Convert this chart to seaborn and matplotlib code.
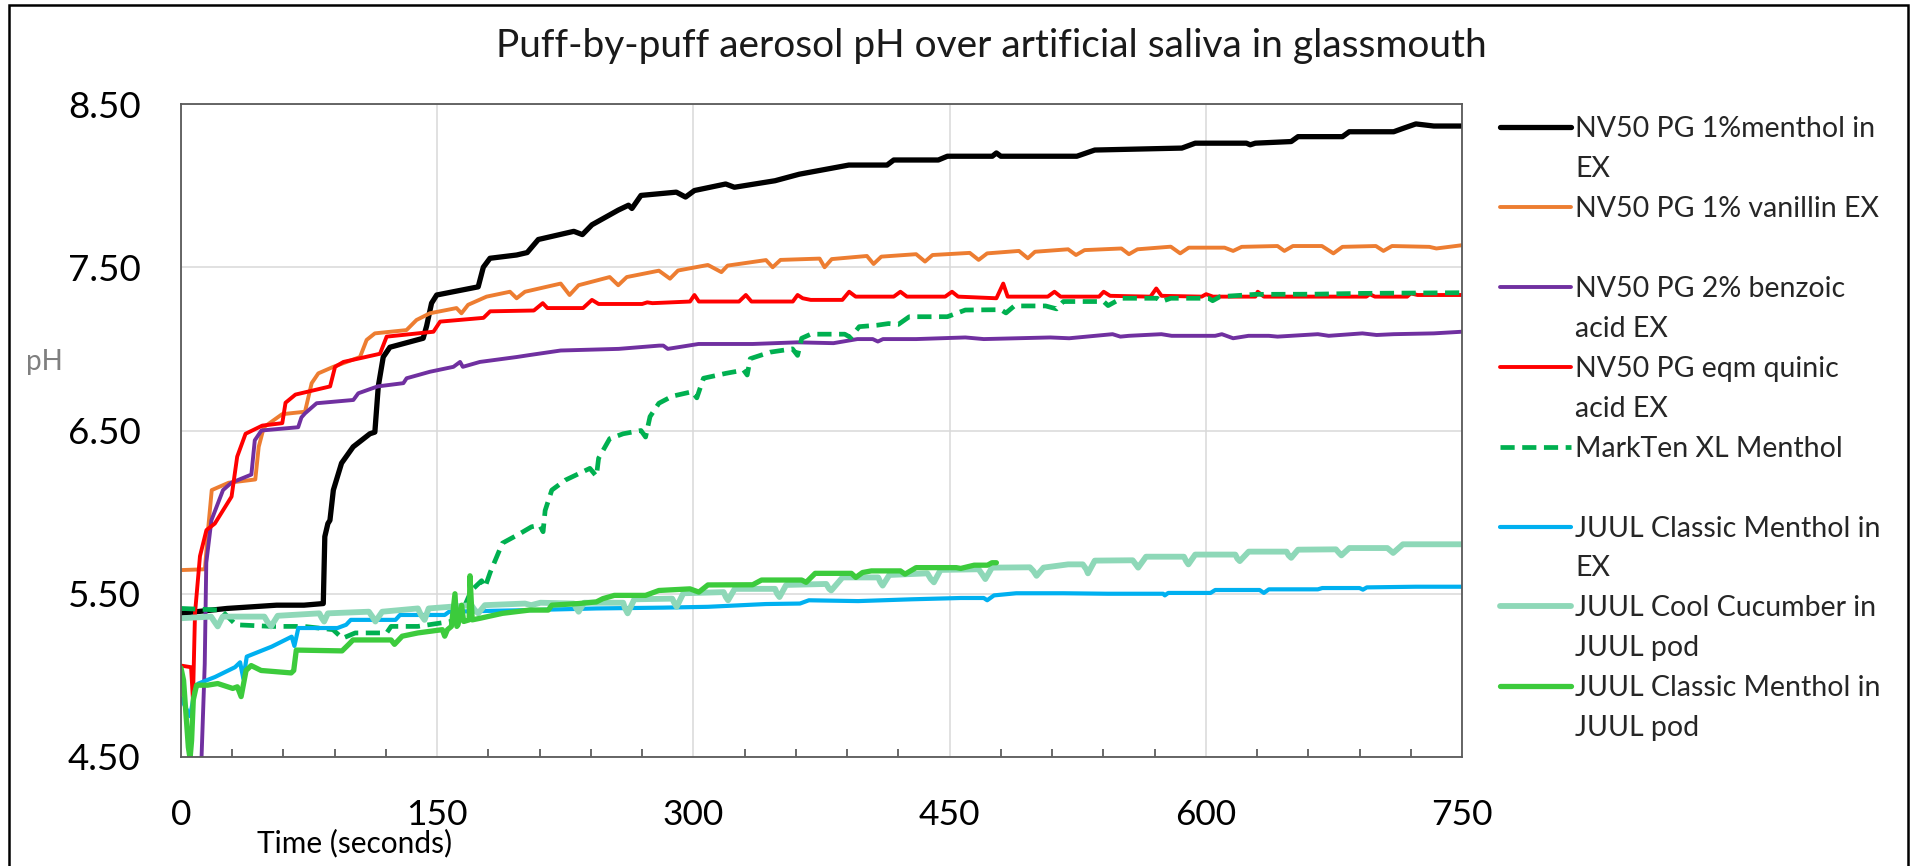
import numpy as np
import matplotlib
matplotlib.use("Agg")
import matplotlib.pyplot as plt
import seaborn as sns
from matplotlib.lines import Line2D
from matplotlib.patches import Rectangle

# puff-by-puff pH readings
t_black = [0, 27, 56, 72, 83.3, 84.2, 86, 87.2, 89.2, 94, 100.8, 110.6, 113.5, 115.5, 118.4, 122.3,
           141.8, 143.8, 146.7, 149.7, 174, 177, 180.9, 196.5, 202.7, 209.2, 230, 235, 240.6, 256,
           262, 264, 269.3, 290, 295.4, 300.6, 318.9, 324, 347.8, 362, 391, 413.4, 417.3, 443.4,
           448.7, 475, 477.4, 480, 524.5, 535, 586, 593.8, 623.8, 626, 629, 650, 654, 680, 684,
           710, 715.3, 723, 733.5, 750]
ph_black = [5.38, 5.41, 5.43, 5.43, 5.44, 5.85, 5.93, 5.95, 6.135, 6.30, 6.40, 6.48, 6.49, 6.77, 6.95,
            7.01, 7.065, 7.14, 7.28, 7.33, 7.38, 7.50, 7.555, 7.575, 7.59, 7.67, 7.72, 7.70, 7.76,
            7.85, 7.88, 7.86, 7.94, 7.96, 7.93, 7.97, 8.01, 7.99, 8.03, 8.07, 8.126, 8.126, 8.157,
            8.157, 8.18, 8.18, 8.20, 8.18, 8.18, 8.218, 8.23, 8.26, 8.26, 8.25, 8.26, 8.27, 8.30,
            8.30, 8.33, 8.33, 8.35, 8.378, 8.365, 8.365]

t_orange = [0, 14, 16, 18, 27.9, 43.5, 45.5, 48.5, 59.2, 72.6, 76.5, 80.4, 89.2, 104.8, 108.7, 113.5,
            132, 137.9, 145.7, 161.3, 164.2, 168.1, 178.9, 192.6, 196.5, 201.4, 222.3, 227.5, 232.8,
            251, 256, 261, 279.8, 286.3, 291, 308.5, 316.4, 320, 342.5, 346.4, 351, 373.9, 376.8,
            381, 401.6, 405.5, 410, 430.4, 435.6, 440, 461.8, 467, 472, 490.6, 495.8, 500, 519.4,
            524, 529, 550.6, 555, 560, 579.5, 585, 590, 611, 616, 621, 642, 646, 651, 668, 674.7,
            680, 699.6, 704, 709, 730.9, 735, 750]
ph_orange = [5.645, 5.65, 5.91, 6.135, 6.18, 6.20, 6.40, 6.52, 6.60, 6.615, 6.79, 6.85, 6.89, 6.95,
             7.055, 7.095, 7.115, 7.177, 7.218, 7.25, 7.218, 7.27, 7.32, 7.35, 7.31, 7.35, 7.40,
             7.33, 7.39, 7.44, 7.39, 7.44, 7.479, 7.43, 7.48, 7.514, 7.47, 7.51, 7.544, 7.50, 7.545,
             7.553, 7.50, 7.55, 7.569, 7.52, 7.565, 7.58, 7.535, 7.575, 7.588, 7.545, 7.585, 7.60,
             7.555, 7.595, 7.61, 7.575, 7.605, 7.615, 7.58, 7.61, 7.626, 7.585, 7.62, 7.62, 7.60,
             7.625, 7.63, 7.60, 7.63, 7.63, 7.585, 7.625, 7.63, 7.60, 7.63, 7.625, 7.615, 7.635]

t_purple = [0, 8.5, 9.2, 12, 13.9, 14.8, 17.8, 24.6, 29.5, 41.2, 43.2, 47.1, 68.6, 70.5, 72.6, 79.4,
            100.9, 103.8, 115.1, 130.2, 132.1, 145.8, 159.5, 163.4, 165, 175, 196.5, 204, 222.3,
            256.3, 280, 282.4, 285, 303, 334.7, 360.8, 382, 396, 405, 408, 411, 430.4, 459.2, 470,
            509, 520, 545.4, 550, 555, 574, 580, 605.5, 609.4, 616, 625, 636.9, 642, 665.6, 672,
            691.7, 700, 710, 733.5, 750]
ph_purple = [4.30, 4.30, 4.49, 4.49, 5.07, 5.69, 5.95, 6.135, 6.18, 6.23, 6.44, 6.50, 6.52, 6.58,
             6.605, 6.667, 6.687, 6.728, 6.77, 6.79, 6.82, 6.86, 6.89, 6.92, 6.89, 6.92, 6.95, 6.962,
             6.99, 7.00, 7.02, 7.02, 7.00, 7.03, 7.03, 7.04, 7.035, 7.06, 7.06, 7.045, 7.06, 7.06,
             7.07, 7.06, 7.07, 7.065, 7.09, 7.075, 7.08, 7.09, 7.08, 7.08, 7.09, 7.065, 7.08, 7.08,
             7.075, 7.09, 7.08, 7.095, 7.085, 7.09, 7.095, 7.105]

t_red = [0, 5.9, 7.0, 8.2, 11.1, 14.9, 19.8, 29.6, 32.9, 37.8, 47.6, 59.3, 61.2, 67, 87.3, 90.2, 95.1,
         116.5, 120.4, 147.8, 151.7, 177.1, 181, 206.6, 211.8, 214.5, 235.4, 240.6, 244.5, 270, 273,
         276, 298, 300.6, 303.2, 326.7, 330.7, 334, 358.2, 361, 364, 368.7, 387.2, 391.2, 395, 417.3,
         421.2, 425, 447.4, 451.4, 455, 477.4, 481.4, 484, 507.5, 511.4, 515, 537.5, 540.2, 544,
         567.6, 571, 574.1, 597.6, 600.2, 604.2, 629, 630.4, 634, 694, 696, 699, 717.9, 720, 724, 750]
ph_red = [5.06, 5.05, 4.85, 5.38, 5.73, 5.89, 5.93, 6.095, 6.34, 6.48, 6.53, 6.545, 6.67, 6.72, 6.77,
          6.89, 6.92, 6.97, 7.075, 7.105, 7.167, 7.19, 7.23, 7.235, 7.28, 7.25, 7.25, 7.30, 7.275,
          7.275, 7.285, 7.28, 7.29, 7.33, 7.29, 7.29, 7.33, 7.29, 7.29, 7.33, 7.31, 7.30, 7.30, 7.35,
          7.32, 7.32, 7.35, 7.32, 7.32, 7.35, 7.32, 7.31, 7.40, 7.32, 7.32, 7.35, 7.32, 7.32, 7.35,
          7.325, 7.32, 7.37, 7.325, 7.32, 7.335, 7.32, 7.32, 7.35, 7.32, 7.32, 7.335, 7.32, 7.32,
          7.34, 7.33, 7.33]

t_markten = [0, 23.4, 32.2, 53, 72, 89, 94.5, 102, 120.4, 123, 138.7, 145, 158, 165, 170, 176, 178,
             181, 188.2, 198.7, 205.2, 210, 212, 213.2, 217.1, 225, 239.4, 243.2, 244.5, 251, 258.9,
             269.3, 272, 274.6, 279.8, 287.6, 299.4, 302, 305.9, 319, 329.4, 331.5, 333.3, 345, 358,
             361, 363.4, 368.7, 388.6, 392, 397.1, 407.6, 414.2, 420, 426.4, 448.7, 459.2, 480, 483,
             487.9, 506.2, 512.7, 516.6, 540.2, 542.8, 550.6, 571.5, 574, 579.5, 601.7, 604, 608.3,
             629.2, 663, 691.7, 750]
ph_markten = [5.41, 5.40, 5.31, 5.30, 5.30, 5.28, 5.227, 5.26, 5.26, 5.30, 5.30, 5.31, 5.33, 5.40,
              5.52, 5.58, 5.54, 5.63, 5.81, 5.87, 5.91, 5.92, 5.88, 6.01, 6.135, 6.196, 6.268, 6.22,
              6.33, 6.45, 6.48, 6.50, 6.46, 6.585, 6.667, 6.71, 6.738, 6.70, 6.82, 6.85, 6.87, 6.84,
              6.94, 6.98, 7.00, 6.96, 7.065, 7.09, 7.09, 7.07, 7.136, 7.145, 7.155, 7.15, 7.197,
              7.197, 7.238, 7.24, 7.22, 7.263, 7.263, 7.245, 7.29, 7.29, 7.265, 7.31, 7.31, 7.29,
              7.31, 7.31, 7.295, 7.32, 7.334, 7.335, 7.34, 7.344]

t_juul_ex = [0, 5.3, 8.2, 10.2, 19.9, 31.6, 34.6, 36.5, 38.5, 53.1, 64.8, 66.4, 68.7, 91.6, 96.7, 99.4,
             125.6, 128.2, 154.4, 157, 204, 243.2, 282.4, 308.5, 342.5, 362.4, 367.6, 396.4, 427.8,
             456.5, 470, 472, 476, 489, 516.6, 542.7, 575, 576, 578, 602.8, 605.5, 631.5, 634, 636.9,
             665.6, 668.2, 690, 692, 694.3, 723, 750]
ph_juul_ex = [4.86, 4.75, 4.91, 4.95, 4.99, 5.05, 5.08, 4.98, 5.115, 5.176, 5.237, 5.18, 5.29, 5.29,
              5.31, 5.34, 5.34, 5.37, 5.37, 5.39, 5.40, 5.41, 5.415, 5.42, 5.437, 5.44, 5.46, 5.455,
              5.466, 5.474, 5.474, 5.46, 5.49, 5.503, 5.503, 5.50, 5.50, 5.49, 5.505, 5.505, 5.523,
              5.523, 5.505, 5.527, 5.527, 5.535, 5.535, 5.525, 5.539, 5.543, 5.543]

t_cucumber = [0, 17.6, 19.5, 21.5, 24.4, 48.8, 50.5, 52.7, 56.6, 81, 82.5, 83.8, 86, 110, 112, 113.8,
              117.8, 138.7, 140.5, 142.6, 145, 170, 172, 174, 177.9, 201.4, 205, 210.5, 230, 231.5,
              232.8, 236, 258.9, 260, 261.5, 265.4, 287.6, 289, 290.2, 294.1, 317.7, 319, 320.3,
              324.2, 347.8, 349, 350.4, 354.3, 377.8, 379.5, 380.7, 387.3, 408.2, 409.5, 410.8, 414.7,
              437, 439, 440.8, 444.7, 467, 469, 470.9, 474.8, 497, 499, 500.9, 505, 519.4, 528, 530,
              531, 535, 557.2, 559, 560.4, 565, 587.2, 588.5, 589.8, 593.8, 617.3, 618.5, 619.9,
              625.1, 647.3, 648.5, 650, 654, 676.2, 678, 679.4, 684, 706.3, 708, 709.7, 715.4, 750]
ph_cucumber = [5.35, 5.36, 5.33, 5.30, 5.36, 5.36, 5.33, 5.30, 5.365, 5.38, 5.35, 5.33, 5.38, 5.39,
               5.36, 5.33, 5.39, 5.41, 5.37, 5.34, 5.41, 5.43, 5.40, 5.38, 5.43, 5.44, 5.43, 5.445,
               5.44, 5.41, 5.39, 5.445, 5.445, 5.41, 5.38, 5.466, 5.47, 5.44, 5.42, 5.503, 5.51,
               5.48, 5.46, 5.53, 5.53, 5.50, 5.48, 5.554, 5.56, 5.53, 5.52, 5.60, 5.60, 5.57, 5.55,
               5.615, 5.625, 5.59, 5.57, 5.646, 5.65, 5.62, 5.59, 5.66, 5.662, 5.64, 5.61, 5.66,
               5.68, 5.68, 5.65, 5.625, 5.703, 5.705, 5.68, 5.66, 5.727, 5.727, 5.70, 5.68, 5.74,
               5.74, 5.715, 5.70, 5.758, 5.758, 5.735, 5.72, 5.77, 5.772, 5.75, 5.735, 5.78, 5.78,
               5.765, 5.75, 5.803, 5.803]

t_juul_pod = [0, 1.5, 4.3, 5.3, 6.2, 7.2, 9.1, 15.6, 21.5, 30.3, 33, 35.2, 38.1, 41.1, 46.9, 64.5, 66,
              67.5, 94.3, 98.2, 100.7, 123, 125, 129.5, 138.7, 153, 154.4, 156, 158.3, 160.4, 161.5,
              162.2, 164.3, 165.5, 168.7, 169.2, 170.5, 175.2, 188.2, 204, 215, 217.1, 232.8, 243.2,
              247, 253.7, 272, 277.2, 279.8, 298, 303.2, 308.5, 334.7, 339.9, 363.4, 366, 371.3,
              392.5, 395.1, 399, 404.2, 421.2, 423.9, 430.4, 453.9, 456.5, 460.4, 464.4, 472.2,
              474.8, 477.4]
ph_juul_pod = [5.045, 4.97, 4.56, 4.49, 4.60, 4.85, 4.94, 4.94, 4.95, 4.92, 4.93, 4.87, 5.03, 5.06,
               5.03, 5.015, 5.03, 5.155, 5.15, 5.19, 5.217, 5.217, 5.19, 5.24, 5.26, 5.28, 5.24,
               5.28, 5.30, 5.50, 5.30, 5.31, 5.43, 5.33, 5.34, 5.61, 5.34, 5.35, 5.38, 5.40, 5.40,
               5.43, 5.44, 5.45, 5.47, 5.49, 5.49, 5.51, 5.52, 5.53, 5.51, 5.554, 5.555, 5.584,
               5.584, 5.57, 5.625, 5.625, 5.60, 5.63, 5.64, 5.64, 5.62, 5.66, 5.66, 5.655, 5.665,
               5.675, 5.675, 5.69, 5.69]

x_ticks = [0, 150, 300, 450, 600, 750]
y_ticks = [4.5, 5.5, 6.5, 7.5, 8.5]

# label, second legend line, t, pH, colour, width, dash
series = [
    ("NV50 PG 1%menthol in", "EX", t_black, ph_black, "#000000", 3.8, "-"),
    ("NV50 PG 1% vanillin EX", " ", t_orange, ph_orange, "#ED7D31", 2.8, "-"),
    ("NV50 PG 2% benzoic", "acid EX", t_purple, ph_purple, "#7030A0", 2.8, "-"),
    ("NV50 PG eqm quinic", "acid EX", t_red, ph_red, "#FF0000", 2.8, "-"),
    ("MarkTen XL Menthol", " ", t_markten, ph_markten, "#00B050", 3.4, (0, (3.0, 1.6))),
    ("JUUL Classic Menthol in", "EX", t_juul_ex, ph_juul_ex, "#00B0F0", 3.0, "-"),
    ("JUUL Cool Cucumber in", "JUUL pod", t_cucumber, ph_cucumber, "#8ED8B8", 4.2, "-"),
    ("JUUL Classic Menthol in", "JUUL pod", t_juul_pod, ph_juul_pod, "#3CCB3C", 3.8, "-"),
]

sns.set_theme(style="white")
plt.rcParams['font.family'] = ['Lato', 'DejaVu Sans']

fig = plt.figure(figsize=(19.15, 8.66), dpi=100)
ax = fig.add_axes([181 / 1915, 1 - 757 / 866, 1281 / 1915, 653 / 866])

handles, labels = [], []
for name, second, t, ph, color, lw, ls in series:
    sns.lineplot(x=t, y=ph, ax=ax, color=color, linewidth=lw, linestyle=ls,
                 estimator=None, sort=False, solid_joinstyle='round')
    line = ax.lines[-1]
    handles += [line, Line2D([], [], color='none')]
    labels += [name, second]

ax.set_xlim(0, 750)
ax.set_ylim(4.5, 8.5)
ax.set_xticks(x_ticks)
ax.set_xticks(np.arange(0, 751, 30), minor=True)
ax.set_yticks(y_ticks)
ax.set_yticklabels([f"{v:.2f}" for v in y_ticks])
ax.grid(True, which='major', color='#d9d9d9', linewidth=1.1)
ax.tick_params(axis='x', which='major', direction='in', length=9, width=1.1,
               color='#404040', pad=30, labelsize=25.5, labelcolor='#000000')
ax.tick_params(axis='x', which='minor', direction='in', length=6, width=1.1,
               color='#404040', bottom=True)
ax.tick_params(axis='y', length=0, pad=29, labelsize=26.5, labelcolor='#000000')
for sp in ax.spines.values():
    sp.set_visible(True)
    sp.set_color('#595959')
    sp.set_linewidth(1.3)

ax.set_xlabel("Time (seconds)", fontsize=21.5, color='#000000', va='center')
ax.xaxis.set_label_coords(355 / 1915, 1 - 843 / 866, transform=fig.transFigure)
ax.set_ylabel("")
fig.text(44 / 1915, 1 - 362 / 866, "pH", fontsize=20, color='#7f7f7f', ha='center', va='center')
fig.text(991 / 1915, 1 - 46 / 866, "Puff-by-puff aerosol pH over artificial saliva in glassmouth",
         fontsize=28, color='#1a1a1a', ha='center', va='center')

ax.legend(handles, labels, loc='upper left', bbox_to_anchor=(1500 / 1915, 1 - 116 / 866),
          bbox_transform=fig.transFigure, frameon=False, fontsize=20.5, borderpad=0,
          borderaxespad=0, handlelength=2.5, handletextpad=0.15, labelspacing=0.49)

fig.patches.append(Rectangle((9 / 1915, -0.02), 1899 / 1915, 1.02 - 5 / 866, fill=False,
                             edgecolor='#000000', linewidth=1.8, transform=fig.transFigure))

fig.savefig("out.png", dpi=100)
